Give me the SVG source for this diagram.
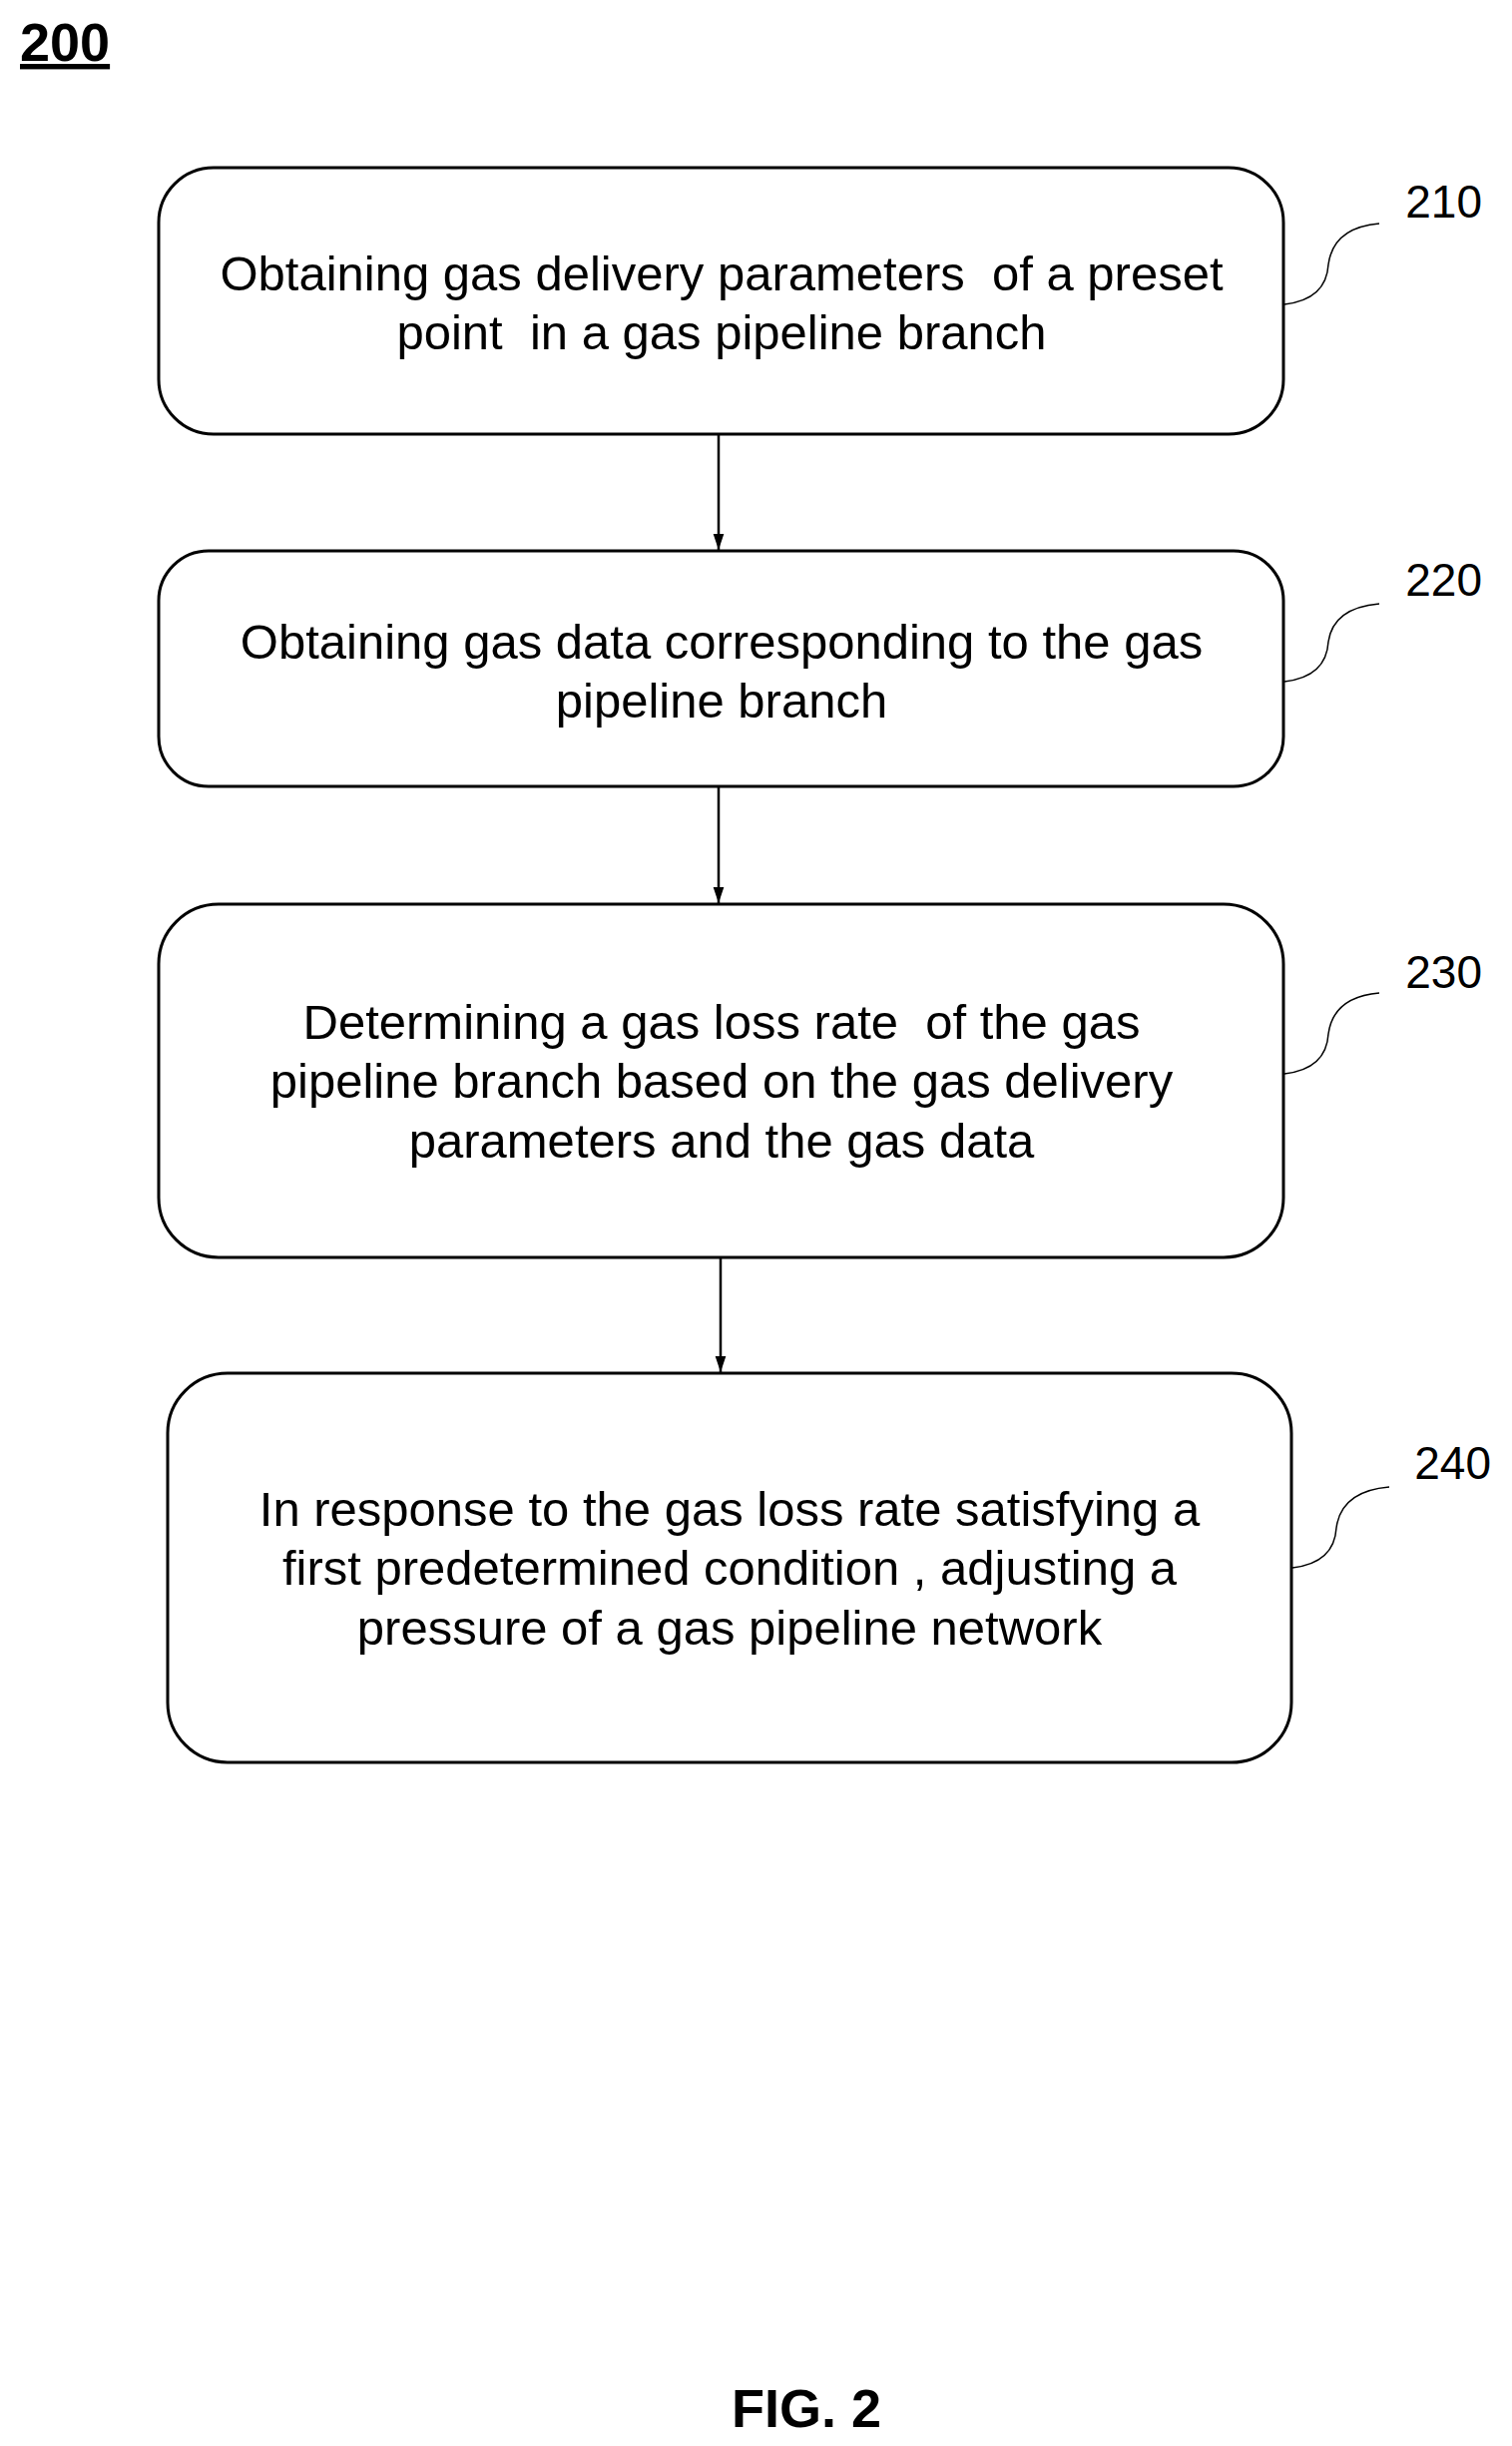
<svg xmlns="http://www.w3.org/2000/svg" width="1515" height="2451" viewBox="0 0 1515 2451" xml:space="preserve">
<style>
.box{fill:#fff;stroke:#000;stroke-width:3}
.t{font-family:"Liberation Sans",Arial,sans-serif;font-size:49px;text-anchor:middle;fill:#000;white-space:pre}
.lbl{font-family:"Liberation Sans",Arial,sans-serif;font-size:46px;text-anchor:end;fill:#000}
.c{fill:none;stroke:#000;stroke-width:2.5}
.lead{fill:none;stroke:#000;stroke-width:1.5}
</style>
<defs><marker id="ah" markerWidth="16" markerHeight="24" refX="24" refY="8" orient="auto" markerUnits="userSpaceOnUse" viewBox="0 0 24 16"><path d="M0,0 L24,8 L0,16 Z" fill="#000"/></marker></defs>
<rect width="1515" height="2451" fill="#fff"/>
<text x="20" y="61" font-family="Liberation Sans,Arial,sans-serif" font-size="54" font-weight="bold" text-decoration="underline">200</text>
<g id="n210"><rect class="box" x="159" y="168" width="1127" height="267" rx="55"/>
<text class="t" x="723" y="291">Obtaining gas delivery parameters  of a preset</text>
<text class="t" x="723" y="350">point  in a gas pipeline branch</text>
<path class="lead" d="M1287,305 Q1329,300 1331,265 Q1336,228 1382,224"/><text class="lbl" x="1485" y="218">210</text></g>
<g id="n220"><rect class="box" x="159" y="552" width="1127" height="236" rx="50"/>
<text class="t" x="723" y="660">Obtaining gas data corresponding to the gas</text>
<text class="t" x="723" y="719">pipeline branch</text>
<path class="lead" d="M1287,683 Q1329,678 1331,643 Q1336,609 1382,605"/><text class="lbl" x="1485" y="597">220</text></g>
<g id="n230"><rect class="box" x="159" y="906" width="1127" height="354" rx="60"/>
<text class="t" x="723" y="1041">Determining a gas loss rate  of the gas</text>
<text class="t" x="723" y="1100">pipeline branch based on the gas delivery</text>
<text class="t" x="723" y="1160">parameters and the gas data</text>
<path class="lead" d="M1287,1076 Q1329,1071 1331,1036 Q1336,999 1382,995"/><text class="lbl" x="1485" y="990">230</text></g>
<g id="n240"><rect class="box" x="168" y="1376" width="1126" height="390" rx="60"/>
<text class="t" x="731" y="1529">In response to the gas loss rate satisfying a</text>
<text class="t" x="731" y="1588">first predetermined condition , adjusting a</text>
<text class="t" x="731" y="1648">pressure of a gas pipeline network</text>
<path class="lead" d="M1295,1571 Q1337,1566 1339,1531 Q1344,1494 1392,1490"/><text class="lbl" x="1494" y="1482">240</text></g>
<g id="connectors">
<line class="c" x1="720" y1="435" x2="720" y2="551" marker-end="url(#ah)"/>
<line class="c" x1="720" y1="788" x2="720" y2="905" marker-end="url(#ah)"/>
<line class="c" x1="722" y1="1260" x2="722" y2="1375" marker-end="url(#ah)"/>
</g>
<text x="808" y="2432" font-family="Liberation Sans,Arial,sans-serif" font-size="54" font-weight="bold" text-anchor="middle">FIG. 2</text>
</svg>
